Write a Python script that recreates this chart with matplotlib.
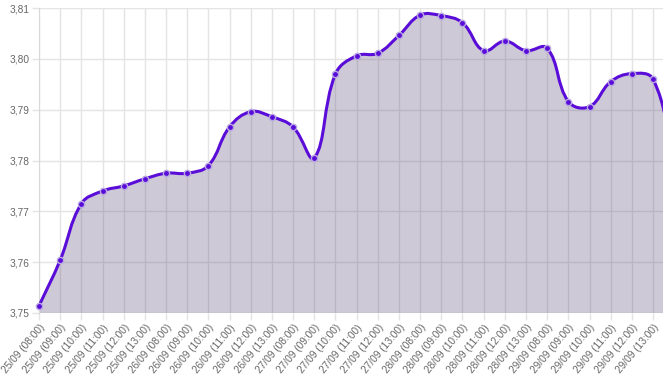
import numpy as np
import matplotlib.pyplot as plt
from matplotlib.path import Path
from matplotlib.patches import PathPatch
from matplotlib.ticker import FuncFormatter

plt.rcParams['font.family'] = ['Liberation Sans', 'DejaVu Sans']

# etiquetas de dias y horas
dias = ['25/09', '26/09', '27/09', '28/09', '29/09']
horas = ['08:00', '09:00', '10:00', '11:00', '12:00', '13:00']
etiquetas = [d + ' (' + h + ')' for d in dias for h in horas]

valores = [3.7514, 3.7604, 3.7715, 3.7740, 3.7750, 3.7764,
           3.7775, 3.7775, 3.7790, 3.7866, 3.7896, 3.7886,
           3.7866, 3.7805, 3.7970, 3.8006, 3.8011, 3.8046,
           3.8086, 3.8085, 3.8071, 3.8016, 3.8035, 3.8016,
           3.8021, 3.7916, 3.7906, 3.7955, 3.7971, 3.7960,
           3.7800]  # ultimo punto queda fuera del grafico

linea = '#5a0cd8'
relleno = (0.36, 0.30, 0.48, 0.30)
grid = '#e4e4e4'

fig = plt.figure(figsize=(6.63, 3.76), dpi=100)
ax = fig.add_axes([39 / 663, 63 / 376, 624 / 663, 305 / 376])
ax.set_xlim(0, 29.47)
ax.set_ylim(3.75, 3.81)

# curva suavizada estilo chart.js (tension 0.4), distancias en pixeles
x = np.arange(len(valores), dtype=float)
y = np.array(valores)
sx, sy = 21.17, 5080.0
px, py = x * sx, y * sy
tension = 0.4
cp_prev = []
cp_next = []
for i in range(len(x)):
    p0 = max(i - 1, 0)
    p2 = min(i + 1, len(x) - 1)
    d01 = np.hypot(px[i] - px[p0], py[i] - py[p0])
    d12 = np.hypot(px[p2] - px[i], py[p2] - py[i])
    tot = d01 + d12 if d01 + d12 > 0 else 1
    fa = tension * d01 / tot
    fb = tension * d12 / tot
    dx = x[p2] - x[p0]
    dy = y[p2] - y[p0]
    cp_prev.append((x[i] - fa * dx, y[i] - fa * dy))
    cp_next.append((x[i] + fb * dx, y[i] + fb * dy))

verts = [(x[0], y[0])]
codes = [Path.MOVETO]
for i in range(len(x) - 1):
    verts += [cp_next[i], cp_prev[i + 1], (x[i + 1], y[i + 1])]
    codes += [Path.CURVE4] * 3

area = verts + [(x[-1], 3.75), (x[0], 3.75), (x[0], y[0])]
area_codes = codes + [Path.LINETO, Path.LINETO, Path.CLOSEPOLY]
ax.add_patch(PathPatch(Path(area, area_codes), facecolor=relleno, edgecolor='none', zorder=2))
ax.add_patch(PathPatch(Path(verts, codes), facecolor='none', edgecolor=linea, lw=2.2, zorder=3))
ax.plot(x[:30], y[:30], 'o', ms=4.5, mfc=linea, mec='#b9a9e3', mew=1.0, zorder=4, clip_on=False)

ax.set_xticks(range(len(etiquetas)))
ax.set_xticklabels(etiquetas, rotation=50, ha='right', rotation_mode='anchor')
ax.set_yticks(np.arange(3.75, 3.8101, 0.01))
ax.yaxis.set_major_formatter(FuncFormatter(lambda v, p: ('%.2f' % v).replace('.', ',')))
ax.tick_params(axis='both', labelsize=7.3, labelcolor='#666666', color=grid, length=5, width=1)
ax.tick_params(axis='x', pad=2)
ax.tick_params(axis='y', pad=2)
ax.grid(True, color=grid, lw=1, zorder=0)
ax.set_axisbelow(True)
for s in ['top', 'right', 'bottom']:
    ax.spines[s].set_visible(False)
ax.spines['left'].set_color('#d8d8d8')

fig.savefig('out.png', dpi=100)
